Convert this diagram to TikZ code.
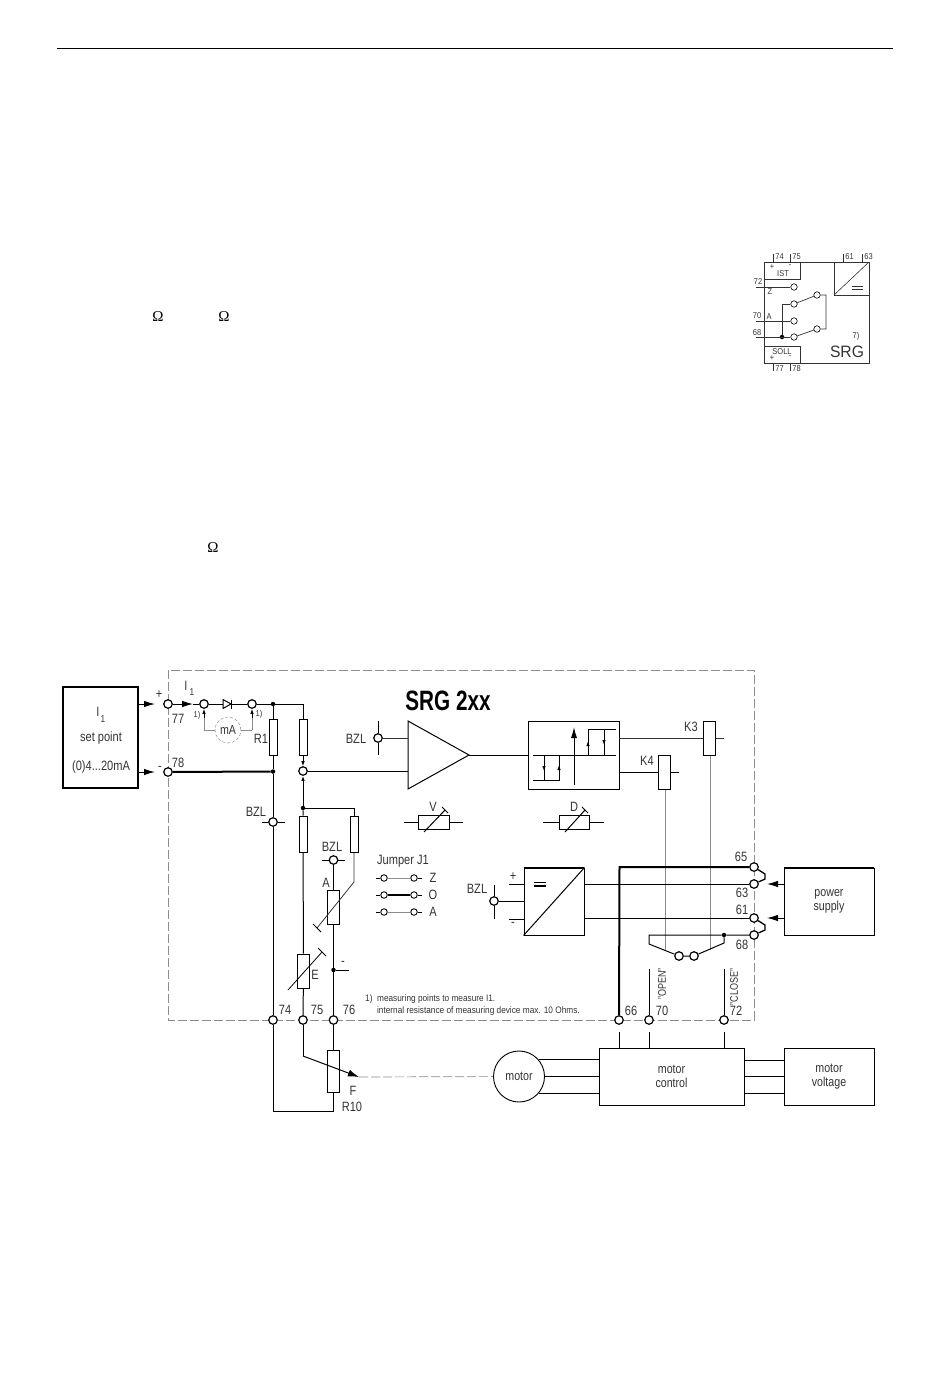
\documentclass[tikz,border=0pt]{standalone}
\usepackage{graphicx}
\usepackage{fontspec}
\setmainfont{Liberation Sans}
\newfontfamily\omegafont{Liberation Serif}
\usetikzlibrary{arrows.meta}

\definecolor{inkgray}{gray}{0.2}
\definecolor{wiregray}{gray}{0.55}
\newcommand{\cond}[1]{\scalebox{.82}[1]{#1}}
\tikzset{
	wire/.style={line width=1pt},
	heavy/.style={line width=2pt},
	thinwire/.style={line width=0.5pt,wiregray},
	term/.style={circle,draw,fill=white,line width=1.2pt,inner sep=0pt,minimum size=8.5pt},
	smallterm/.style={circle,draw,fill=white,line width=0.6pt,inner sep=0pt,minimum size=6.5pt},
	dot/.style={circle,fill=black,inner sep=0pt,minimum size=4.5pt},
	res/.style={draw,fill=white,line width=1pt,inner sep=0pt},
	blk/.style={draw,line width=0.9pt,inner sep=0pt,align=center,font=\fontsize{13}{14}\selectfont,text=inkgray},
	lab/.style={font=\fontsize{13.5}{14}\selectfont,text=inkgray,inner sep=0pt,xscale=.82},
	tiny/.style={font=\fontsize{8.5}{9}\selectfont,text=inkgray,inner sep=0pt,xscale=.88},
	upright/.style={font=\fontsize{11}{11}\selectfont,text=inkgray,inner sep=0pt,rotate=90},
	tip/.style={-{Latex[length=11pt,width=6.5pt]},wire},
	smalltip/.style={-{Latex[length=5pt,width=3.5pt]},line width=0.8pt}
}

\begin{document}
\begin{tikzpicture}[x=1pt,y=-1pt]
	\useasboundingbox (0,0) rectangle (950,1378);

	% page rule and stray symbols
	\coordinate (ruleL) at (57,48);
	\coordinate (ruleR) at (893,48);
	\draw[line width=0.8pt] (ruleL) -- (ruleR);
	\foreach \name/\x/\y in {omA/158/317, omB/224/317, omC/213/548}
		\node[inner sep=0pt,font=\omegafont\fontsize{15}{15}\selectfont] (\name) at (\x,\y) {Ω};

	% small connection picture
	\draw[line width=0.7pt,inkgray] (764,262) rectangle (869,363);
	\draw[line width=0.7pt,inkgray] (764,279) -- (800,279) -- (800,262);
	\draw[line width=0.7pt,inkgray] (764,346) -- (800,346) -- (800,363);
	\draw[line width=0.7pt,inkgray] (834,262) -- (834,295) -- (869,295);
	\draw[line width=0.6pt,inkgray] (834,295) -- (869,262);
	\draw[line width=0.8pt,inkgray] (852,286.5) -- (863,286.5) (852,289.5) -- (863,289.5);
	\foreach \x/\n in {773/74, 790/75, 843/61, 862/63}
	{
		\draw[line width=0.7pt,inkgray] (\x,254) -- (\x,262);
		\node[tiny] (pin\n) at (\x+6.5,256.5) {\n};
	}
	\foreach \x/\n in {773/77, 790/78}
	{
		\draw[line width=0.7pt,inkgray] (\x,363) -- (\x,371);
		\node[tiny] (pin\n) at (\x+6.5,369) {\n};
	}
	\node[smallterm] (sZ) at (794,287) {};
	\node[smallterm] (sO) at (794,304) {};
	\node[smallterm] (sA) at (794,321) {};
	\node[smallterm] (sB) at (794,337) {};
	\node[smallterm] (sU) at (817,295) {};
	\node[smallterm] (sL) at (817,329) {};
	\node[dot] (sD) at (782,337) {};
	\coordinate (sZe) at (756,287);
	\coordinate (sAe) at (756,321);
	\coordinate (sBe) at (756,337);
	\coordinate (sOc) at (782,304);
	\coordinate (sUr) at (826,295);
	\coordinate (sLr) at (826,329);
	\draw[line width=0.7pt,inkgray] (sZe) -- (sZ);
	\draw[line width=0.7pt,inkgray] (sAe) -- (sA);
	\draw[line width=0.7pt,inkgray] (sBe) -- (sB);
	\draw[line width=0.7pt,inkgray] (sD) -- (sOc) -- (sO);
	\draw[line width=0.7pt,inkgray] (sO) -- (sU) -- (sUr) -- (sLr) -- (sL) -- (sB);
	\node[tiny] (s72) at (758,282) {72};
	\node[tiny] (s70) at (757,316) {70};
	\node[tiny] (s68) at (757,333) {68};
	\node[tiny] (sz) at (770,292) {Z};
	\node[tiny] (sa) at (769,317) {A};
	\node[tiny] (sIST) at (783,274) {IST};
	\node[tiny] (sSOLL) at (782,352) {SOLL};
	\node[tiny] (sp1) at (772,267) {+};
	\node[tiny] (sm1) at (790,266) {-};
	\node[tiny] (sp2) at (772,358) {+};
	\node[tiny] (sm2) at (790,357) {-};
	\node[tiny] (s7) at (856,336) {7)};
	\node[inner sep=0pt,text=inkgray,xscale=.95,font=\fontsize{16.5}{17}\selectfont] (sSRG) at (847,352) {SRG};

	% dashed unit frame
	\draw[wiregray,line width=0.7pt,dash pattern=on 9pt off 3pt on 9pt off 3pt] (168,670) rectangle (754,1020);
	\node[inner sep=0pt,xscale=.74,font=\bfseries\fontsize{28}{28}\selectfont] (title) at (448,701) {SRG 2xx};

	% blocks
	\node[blk,line width=1.4pt,minimum width=75pt,minimum height=101pt] (setp) at (100.5,737.5) {};
	\node[lab] (setI) at (98,712) {I};
	\node[lab,font=\fontsize{10}{10}\selectfont] (setIa) at (103,719) {1};
	\node[lab] (setTxt) at (101,738) {set point};
	\node[lab] (setRng) at (101,767) {(0)4...20mA};
	\node[blk,minimum width=91pt,minimum height=68pt] (hyst) at (573.5,755) {};
	\node[blk,minimum width=60pt,minimum height=67pt] (conv) at (554,901.5) {};
	\node[blk,minimum width=90pt,minimum height=67pt] (psu) at (829,901.5) {\cond{power}\\\cond{supply}};
	\node[blk,minimum width=145pt,minimum height=57pt] (mctl) at (671.5,1076.5) {\cond{motor}\\\cond{control}};
	\node[blk,minimum width=90pt,minimum height=57pt] (mvolt) at (829,1076.5) {\cond{motor}\\\cond{voltage}};
	\node[blk,circle,minimum size=51pt] (motor) at (519,1076.5) {\cond{motor}};
	\draw[heavy] (conv.north west) -- (conv.north east);
	\draw[heavy] (psu.north west) -- (psu.north east);
	\draw[wire] (conv.south west) -- (conv.north east);
	\draw[line width=1.3pt] (534,882.5) -- (546,882.5) (534,886) -- (546,886);

	% terminals
	\foreach \n/\x/\y in {t77/168/704, t78/168/772, ta/204/704, tb/252/704, tm/303/771,
		bzlA/378/738, bzlB/273/822, bzlC/333.5/860, bzlD/494/901,
		t74/273/1020, t75/303/1020, t76/333.5/1020, t66/619/1020, t70/649/1020, t72/724/1020,
		t65/754/867, t63/754/884, t61/754/918, t68/754/935, tj1/679/956, tj2/694/956}
		\node[term] (\n) at (\x,\y) {};
	\foreach \n/\x/\y in {jT/273/704, jM/273/771.5, jN/303/808, jK/333.5/970, jH/724/935}
		\node[dot] (\n) at (\x,\y) {};

	% resistors
	\node[res,minimum width=8pt,minimum height=36pt] (r1) at (273,737.5) {};
	\node[res,minimum width=8pt,minimum height=36pt] (r2) at (303,737.5) {};
	\node[res,minimum width=8pt,minimum height=36pt] (r3) at (303,834) {};
	\node[res,minimum width=8pt,minimum height=36pt] (r4) at (354,834) {};
	\node[res,minimum width=12pt,minimum height=34pt] (rA) at (333.5,907) {};
	\node[res,minimum width=12pt,minimum height=34pt] (rE) at (303.5,971) {};
	\node[res,minimum width=12pt,minimum height=42pt] (r10) at (333.5,1071) {};
	\node[res,minimum width=31pt,minimum height=14pt] (rV) at (433.5,822) {};
	\node[res,minimum width=30pt,minimum height=14pt] (rD) at (574,822) {};
	\node[res,minimum width=12pt,minimum height=34pt] (k3) at (709,738) {};
	\node[res,minimum width=12pt,minimum height=34pt] (k4) at (664,772) {};

	% input side
	\coordinate (inA) at (155,704);
	\coordinate (inB) at (155,772);
	\coordinate (curTip) at (193,704);
	\coordinate (topR) at (303,704);
	\draw[tip] (setp.east |- inA) -- (inA);
	\draw[tip] (setp.east |- inB) -- (inB);
	\draw[tip] (t77) -- (curTip);
	\draw[wire] (curTip) -- (ta);
	\draw[wire] (ta) -- (tb);
	\draw[wire,fill=white] (223,699.5) -- (231,704) -- (223,708.5) -- cycle;
	\draw[wire] (231,699.5) -- (231,708.5);
	\draw[wire] (tb) -- (jT) -- (topR) -- (r2);
	\draw[wire] (jT) -- (r1);
	\draw[wire] (r1) -- (jM) -- (bzlB) -- (t74);
	\draw[heavy] (t78) -- (jM);

	% measuring points
	\node[circle,draw=wiregray,densely dashed,line width=0.5pt,inner sep=0pt,minimum size=26pt,text=inkgray,font=\fontsize{13}{13}\selectfont] (mA) at (228,730) {\cond{mA}};
	\coordinate (mL) at (204,730);
	\coordinate (mR) at (252,730);
	\draw[thinwire] (mA) -- (mL);
	\draw[thinwire] (mA) -- (mR);
	\draw[thinwire] (mL) -- (204,718);
	\draw[thinwire] (mR) -- (252,718);
	\draw[smalltip] (204,718) -- (ta);
	\draw[smalltip] (252,718) -- (tb);
	\node[tiny] (mp1) at (197,715) {1)};
	\node[tiny] (mp2) at (259,714) {1)};

	% divider chain
	\draw[smalltip] (r2) -- (tm);
	\draw[smalltip,line width=1pt] (jN) -- (tm);
	\draw[wire] (jN) -- (r3) -- (rE) -- (t75);
	\coordinate (r4top) at (354,808);
	\coordinate (r4low) at (354,882);
	\coordinate (rAend) at (317,928);
	\draw[wire] (jN) -- (r4top) -- (r4);
	\draw[line width=0.8pt,inkgray] (r4) -- (r4low) -- (rAend);
	\draw[wire] (rAend) ++(-4,-4) -- ++(8,8);
	\draw[wire] (bzlC) -- (rA) -- (jK) -- (t76);
	\coordinate (kEnd) at (349,970);
	\draw[wire] (jK) -- (kEnd);
	\coordinate (eLow) at (288,990);
	\coordinate (eHigh) at (322,952);
	\draw[line width=0.8pt] (eLow) -- (eHigh);
	\draw[wire] (eHigh) ++(-4,-4) -- ++(8,8);

	% pot and motor link
	\coordinate (wipA) at (303,1056);
	\coordinate (wipB) at (359,1077);
	\coordinate (bot1) at (273,1111);
	\coordinate (bot2) at (333.5,1111);
	\draw[wire] (t76) -- (r10) -- (bot2) -- (bot1) -- (t74);
	\draw[wire] (t75) -- (wipA);
	\draw[-{Latex[length=11pt,width=7pt]},wire] (wipA) -- (wipB);
	\draw[wiregray,line width=0.7pt,dash pattern=on 9pt off 3pt] (wipB) -- (motor);

	% bzl ticks
	\coordinate (bzA1) at (378,721);
	\coordinate (bzA2) at (378,755);
	\coordinate (bzB1) at (262,822);
	\coordinate (bzB2) at (285,822);
	\coordinate (bzC1) at (322,860);
	\coordinate (bzC2) at (345,860);
	\coordinate (bzD1) at (494,885);
	\coordinate (bzD2) at (494,919);
	\draw[wire] (bzA1) -- (bzlA) -- (bzA2);
	\draw[wire] (bzB1) -- (bzlB) -- (bzB2);
	\draw[wire] (bzC1) -- (bzlC) -- (bzC2);
	\draw[wire] (bzD1) -- (bzlD) -- (bzD2);

	% amplifier
	\coordinate (ampT) at (408,721);
	\coordinate (ampB) at (408,789);
	\coordinate (ampO) at (469,755);
	\draw[wire] (ampT) -- (ampO) -- (ampB) -- cycle;
	\draw[line width=0.8pt,inkgray] (bzlA) -- (ampT |- bzlA);
	\draw[wire] (tm) -- (ampT |- tm);
	\draw[wire] (ampO) -- (hyst.west);

	% trimmers
	\draw[wire] (404,822) -- (rV) -- (463,822);
	\draw[wire] (543,822) -- (rD) -- (604,822);
	\draw[wire] (424,832) -- (445,810) ++(-3,-3) -- ++(6,6);
	\draw[wire] (565,832) -- (585,810) ++(-3,-3) -- ++(6,6);
	\node[lab] (labV) at (433,807) {V};
	\node[lab] (labD) at (574,807) {D};

	% hysteresis characteristic
	\draw[wire] (533,755) -- (616,755);
	\draw[-{Latex[length=11pt,width=6pt]},wire] (574,785) -- (574,727);
	\draw[wire] (616,729) -- (588,729) -- (588,755);
	\draw[wire] (604,729) -- (604,755);
	\draw[wire] (533,780) -- (559,780) -- (559,755);
	\draw[wire] (544,755) -- (544,780);
	\draw[smalltip] (588,755) -- (588,741);
	\draw[smalltip] (604,729) -- (604,745);
	\draw[smalltip] (559,780) -- (559,765);
	\draw[smalltip] (544,755) -- (544,771);

	% relay coils
	\coordinate (k3End) at (724,738);
	\coordinate (k4End) at (679,772);
	\draw[line width=0.8pt,inkgray] (hyst.east |- k3) -- (k3) -- (k3End);
	\draw[wire] (hyst.east |- k4) -- (k4) -- (k4End);
	\coordinate (k3Low) at (710,949.5);
	\coordinate (k4Low) at (665,950.5);
	\draw[line width=1pt,wiregray] (k3.south -| k3Low) -- (k3Low);
	\draw[line width=1pt,wiregray] (k4.south -| k4Low) -- (k4Low);
	\node[lab] (labK3) at (691,727) {K3};
	\node[lab] (labK4) at (647,761) {K4};

	% converter and supply wiring
	\coordinate (cornerA) at (619.5,867);
	\coordinate (plusE) at (509,884);
	\coordinate (minusE) at (509,919);
	\draw[wire] (plusE) -- (conv.west |- plusE);
	\draw[wire] (minusE) -- (conv.west |- minusE);
	\draw[wire] (bzlD) -- (conv.west |- bzlD);
	\draw[wire] (conv.east |- t63) -- (t63);
	\draw[wire] (conv.east |- t61) -- (t61);
	\draw[heavy] (t65) -- (cornerA) -- (t66);
	\coordinate (b1a) at (765,874);
	\coordinate (b1b) at (765,879);
	\coordinate (b2a) at (765,925);
	\coordinate (b2b) at (765,930);
	\draw[line width=1.3pt] (t65) -- (b1a) -- (b1b) -- (t63);
	\draw[line width=1.3pt] (t61) -- (b2a) -- (b2b) -- (t68);
	\coordinate (psA) at (767,884);
	\coordinate (psB) at (767,918);
	\draw[tip] (psu.west |- psA) -- (psA);
	\draw[tip] (psu.west |- psB) -- (psB);

	% open / close bridge
	\coordinate (brL) at (649,935);
	\coordinate (brLb) at (649,944);
	\coordinate (brR) at (724,943);
	\draw[wire] (t68) -- (jH) -- (brL) -- (brLb) -- (tj1) -- (tj2) -- (brR) -- (jH);
	\coordinate (openEnd) at (649,969);
	\coordinate (closeEnd) at (724,969);
	\draw[wire] (openEnd) -- (t70);
	\draw[wire] (closeEnd) -- (t72);

	% links to motor control
	\foreach \n in {66,70,72}
	{
		\coordinate (s\n) at ([yshift=-12pt]t\n.center);
		\draw[wire] (s\n) -- (s\n |- mctl.north);
	}
	\draw[wire] (mctl.east) -- (mvolt.west);
	\foreach \nm/\dy in {up/16.5, lo/-16.5}
	{
		\coordinate (volt\nm) at ([yshift=\dy pt]mctl.east);
		\draw[wire] (volt\nm) -- (mvolt.west |- volt\nm);
	}
	\draw[wire] (motor.east) -- (mctl.west);
	\draw[wire] (motor.41) -- (mctl.west |- motor.41);
	\draw[wire] (motor.-41) -- (mctl.west |- motor.-41);

	% labels
	\node[lab] (labI) at (186,686) {I};
	\node[lab,font=\fontsize{10}{10}\selectfont] (labIa) at (192,692) {1};
	\foreach \n/\txt/\x/\y in {l77/77/178/719, l78/78/178/763, lR1/R1/261/739,
		lbzA/BZL/356/739, lbzB/BZL/256/812, lbzC/BZL/332/847, lbzD/BZL/477/889,
		lPl/+/159/695, lMi/-/160/768, lAa/A/326/883, lEe/E/315/975,
		l74/74/285/1010, l75/75/317/1010, l76/76/349/1010, lFf/F/353/1091, lR10/R10/352/1107,
		l66/66/631/1011, l70/70/662/1011, l72/72/736/1011,
		l65/65/741/857, l63/63/742/893, l61/61/742/910, l68/68/742/945,
		lCp/+/513/877, lCm/-/513/924, lKm/-/343/963}
		\node[lab] (\n) at (\x,\y) {\txt};
	\node[lab,anchor=west] (jmpT) at (377,861) {Jumper J1};
	\foreach \n/\y/\style/\txt in {Z/878/thinwire/Z, O/895/heavy/O, A/912/thinwire/A}
	{
		\node[smallterm,line width=0.9pt] (jl\n) at (384,\y) {};
		\node[smallterm,line width=0.9pt] (jr\n) at (414,\y) {};
		\draw[\style] (jl\n) -- (jr\n);
		\coordinate (jle\n) at (376,\y);
		\coordinate (jre\n) at (422,\y);
		\draw[wire] (jle\n) -- (jl\n);
		\draw[wire] (jr\n) -- (jre\n);
		\node[lab] (jt\n) at (433,\y) {\txt};
	}
	\node[upright] (labOpen) at (662,984) {\cond{"OPEN"}};
	\node[upright] (labClose) at (734,987) {\cond{"CLOSE"}};
	\node[tiny,anchor=west,font=\fontsize{9.4}{12}\selectfont,align=left] (noteA) at (365,1005) {1)\ \ measuring points to measure I1.\\\phantom{1)}\ \ internal resistance of measuring device max. 10 Ohms.};
\end{tikzpicture}
\end{document}
